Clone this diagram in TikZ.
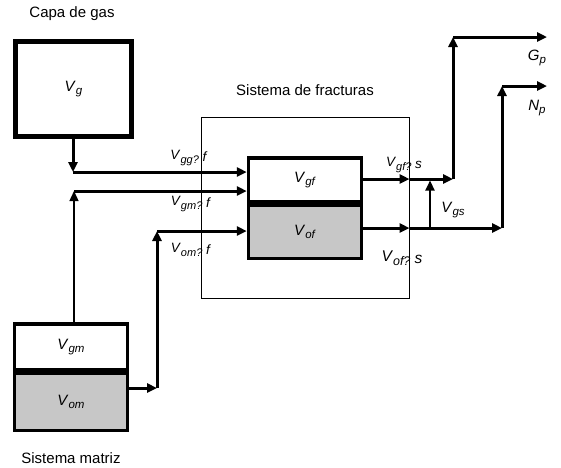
\documentclass[tikz,border=0pt]{standalone}
\usepackage{fontspec}
\setmainfont{Liberation Sans}
\usetikzlibrary{arrows.meta}
\newcommand{\vsym}[3][11.5]{\textit{#2}\raisebox{-0.45ex}{\fontsize{#1}{#1}\selectfont\textit{#3}}}

\begin{document}
\begin{tikzpicture}[x=1pt,y=-1pt,font=\fontsize{15}{17}\selectfont,
  tank/.style={rectangle,draw,line width=3.5pt,minimum width=113pt,inner sep=0pt},
  oil/.style={tank,fill=black!22},
  flow/.style={line width=3pt,-{Triangle[length=10pt,width=9pt]}},
  lbl/.style={font=\fontsize{13.5}{15}\selectfont}]
\useasboundingbox (0,0) rectangle (561,467);

% capa de gas
\node (capa) at (72,14) {Capa de gas};
\node [tank,line width=4.5pt,minimum width=116pt,minimum height=95pt] (Vg) at (73.5,89) {\vsym{V}{g}};

% sistema de fracturas
\node (fractit) at (305,90) {Sistema de fracturas};
\node [draw,line width=1pt,minimum width=208pt,minimum height=181pt] (frac) at (305,207.5) {};
\node [tank,minimum height=44pt] (Vgf) at (305,180) {\vsym{V}{gf}};
\node [oil,minimum height=53pt,anchor=north] (Vof) at (Vgf.south) {\vsym{V}{of}};

% sistema matriz
\node [tank,minimum height=46pt] (Vgm) at (71,347) {\vsym{V}{gm}};
\node [oil,minimum height=57pt,anchor=north] (Vom) at (Vgm.south) {\vsym{V}{om}};
\node (matriz) at (71,458) {Sistema matriz};

\coordinate (gg) at (73,172);
\coordinate (gm) at (74,191);
\coordinate (om1) at (157,388);
\coordinate (om2) at (157,231);
\coordinate (gout) at (453,179);
\coordinate (gtop) at (453,37);
\coordinate (Gend) at (547,37);
\coordinate (oout) at (502,228);
\coordinate (otop) at (502,86);
\coordinate (Nend) at (547,86);
\coordinate (gs) at (430,228);

% entradas
\draw [flow] (Vg.south -| gg) -- (gg);
\draw [flow] (gg) -- (gg -| Vgf.west);
\draw [flow,line width=1.4pt] (Vgm.north -| gm) -- (gm);
\draw [flow] (gm) -- (gm -| Vgf.west);
\draw [flow] (Vom.east |- om1) -- (om1);
\draw [flow] (om1) -- (om2);
\draw [flow] (om2) -- (om2 -| Vof.west);

% salidas
\draw [flow] (Vgf.east |- gout) -- (gout -| frac.east);
\draw [flow] (gout -| frac.east) -- (gout);
\draw [flow] (gout) -- (gtop);
\draw [flow] (gtop) -- (Gend);
\draw [flow] (Vof.east |- oout) -- (oout -| frac.east);
\draw [flow] (oout -| frac.east) -- (oout);
\draw [flow] (oout) -- (otop);
\draw [flow] (otop) -- (Nend);
\draw [flow,line width=2.2pt,shorten >=1.5pt] (gs) -- (gs |- gout);

\node [lbl] (lgg) at (189,158) {\vsym[11]{V}{gg?}~\raisebox{-2pt}{\textit{f}}};
\node [lbl] (lgm) at (191,204) {\vsym[11]{V}{gm?}~\raisebox{-2pt}{\textit{f}}};
\node [lbl] (lom) at (191,250) {\vsym[11]{V}{om?}~\raisebox{-2pt}{\textit{f}}};
\node [lbl] (lgf) at (404,165) {\vsym[11]{V}{gf?}~\raisebox{-2pt}{\textit{s}}};
\node [font=\fontsize{15.5}{17}\selectfont] (lof) at (402,258) {\vsym[12.5]{V}{of?}~\raisebox{-2pt}{\textit{s}}};
\node (lgs) at (453,210) {\vsym{V}{gs}};
\node (Gp) at (537,58) {\vsym{G}{p}};
\node (Np) at (537,108) {\vsym{N}{p}};
\end{tikzpicture}
\end{document}
